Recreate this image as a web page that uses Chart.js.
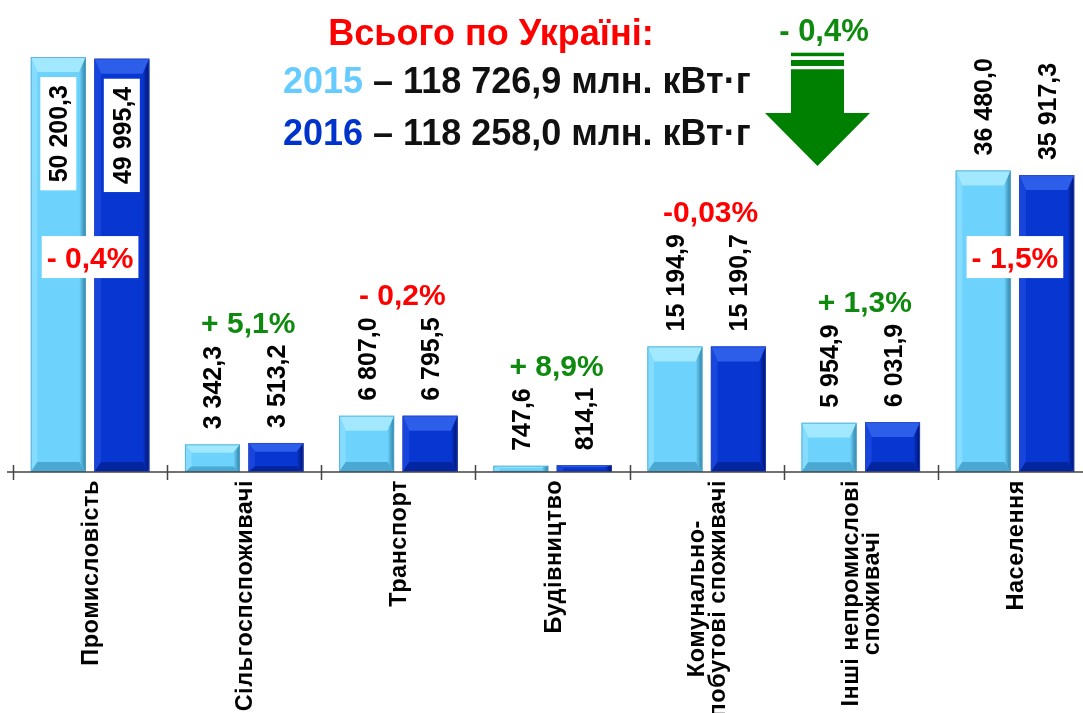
<!DOCTYPE html>
<html lang="uk">
<head>
<meta charset="utf-8">
<title>Споживання електроенергії за категоріями, 2015–2016</title>
<script src="https://cdn.jsdelivr.net/npm/chart.js@4.4.1/dist/chart.umd.min.js"></script>
<style>
  html, body { margin: 0; padding: 0; background: #fff; overflow: hidden; }
  #wrap {
    position: relative; width: 1083px; height: 713px; overflow: hidden;
    font-family: "Liberation Sans", Arial, sans-serif; font-weight: bold;
  }
  #chart { position: absolute; left: 0; top: 0; }
  .head { position: absolute; white-space: nowrap; line-height: 1; }
  #title { left: 491px; top: 15px; font-size: 36px; color: #ff0000; transform: translateX(-50%); }
  #line2015 { left: 283px; top: 63px; font-size: 36px; color: #111; }
  #line2016 { left: 283px; top: 115px; font-size: 36px; color: #111; }
  #total { left: 824px; top: 15px; font-size: 31px; color: #0e8a0e; transform: translateX(-50%); }
  #arrow { position: absolute; left: 760px; top: 40px; }
</style>
</head>
<body>
<div id="wrap">
  <canvas id="chart" width="1100" height="713" style="width:1100px;height:713px"></canvas>
  <div class="head" id="title">Всього по Україні:</div>
  <div class="head" id="line2015"><span style="color:#66ccff">2015</span> – 118 726,9 млн. кВт·г</div>
  <div class="head" id="line2016"><span style="color:#0033cc">2016</span> – 118 258,0 млн. кВт·г</div>
  <div class="head" id="total">- 0,4%</div>
  <svg id="arrow" width="130" height="135" viewBox="0 0 130 135">
    <rect x="31" y="12.7" width="53" height="3.5" fill="#008000"/>
    <rect x="31" y="20" width="53" height="6" fill="#008000"/>
    <polygon points="31,29.3 84,29.3 84,73 110,73 57.5,126 5,73 31,73" fill="#008000"/>
  </svg>
</div>
<script>
// категорії (багаторядкові підписи як масиви)
const categories = [
  ['Промисловість'],
  ['Сільгоспспоживачі'],
  ['Транспорт'],
  ['Будівництво'],
  ['Комунально-', 'побутові споживачі'],
  ['Інші непромислові', 'споживачі'],
  ['Населення']
];
const values2015 = [50200.3, 3342.3, 6807.0, 747.6, 15194.9, 5954.9, 36480.0];
const values2016 = [49995.4, 3513.2, 6795.5, 814.1, 15190.7, 6031.9, 35917.3];
const changeLabels = ['- 0,4%', '+ 5,1%', '- 0,2%', '+ 8,9%', '-0,03%', '+ 1,3%', '- 1,5%'];
const changeGrowth = [false, true, false, true, false, true, false];
const boxedCategories = [0, 6];   // % change drawn inside bars on white
const boxedValues = [0];          // bar values drawn inside bars on white

const FONT = '"Liberation Sans", Arial, sans-serif';
const RED = '#ff0000';
const GREEN = '#0e8a0e';
const INSIDE_LABEL_VALUE = 26000;

const palette = [
  { face: '#6dd3fc', top: '#a2e8ff', left: '#86dcff', right: '#2f7fa3', bottom: '#4aa8d2' },
  { face: '#0836d0', top: '#2c5ee9', left: '#1846dc', right: '#011066', bottom: '#0326a0' }
];

function fmt(v) {
  const parts = v.toFixed(1).split('.');
  return parts[0].replace(/\B(?=(\d{3})+(?!\d))/g, ' ') + ',' + parts[1];
}

function poly(ctx, pts, fill) {
  ctx.beginPath();
  ctx.moveTo(pts[0][0], pts[0][1]);
  for (let k = 1; k < pts.length; k++) ctx.lineTo(pts[k][0], pts[k][1]);
  ctx.closePath();
  ctx.fillStyle = fill;
  ctx.fill();
}

// bevelled look of the bars
const bevelPlugin = {
  id: 'bevel',
  afterDatasetsDraw(chart) {
    const ctx = chart.ctx;
    chart.data.datasets.forEach((ds, d) => {
      const c = palette[d];
      chart.getDatasetMeta(d).data.forEach(el => {
        const l = el.x - el.width / 2, r = el.x + el.width / 2;
        const t = el.y, b = el.base, h = b - t;
        const bt = Math.min(15, h * 0.3), bb = Math.min(10, h * 0.2), s = Math.min(7, el.width * 0.12);
        ctx.save();
        poly(ctx, [[l, t], [r, t], [r - s, t + bt], [l + s, t + bt]], c.top);
        poly(ctx, [[l, t], [l + s, t + bt], [l + s, b - bb], [l, b]], c.left);
        const g = ctx.createLinearGradient(r - s, 0, r, 0);
        g.addColorStop(0, c.face);
        g.addColorStop(1, c.right);
        poly(ctx, [[r, t], [r - s, t + bt], [r - s, b - bb], [r, b]], g);
        poly(ctx, [[l, b], [l + s, b - bb], [r - s, b - bb], [r, b]], c.bottom);
        ctx.strokeStyle = d === 0 ? 'rgba(80,170,210,0.8)' : 'rgba(40,70,200,0.8)';
        ctx.lineWidth = 1;
        ctx.strokeRect(l + 0.5, t + 0.5, el.width - 1, h - 1);
        ctx.restore();
      });
    });
  }
};

// axis line, category ticks, labels
const labelPlugin = {
  id: 'labels',
  afterDraw(chart) {
    const ctx = chart.ctx;
    const xs = chart.scales.x, ys = chart.scales.y;
    const y0 = ys.getPixelForValue(0);
    const catW = (chart.chartArea.right - chart.chartArea.left) / categories.length;
    ctx.save();

    // axis
    ctx.strokeStyle = '#444';
    ctx.lineWidth = 1.5;
    ctx.beginPath();
    ctx.moveTo(7, y0);
    ctx.lineTo(chart.width, y0);
    for (let k = 0; k <= categories.length; k++) {
      const x = Math.round(chart.chartArea.left + k * catW) + 0.5;
      ctx.moveTo(x, y0 - 7);
      ctx.lineTo(x, y0 + 8);
    }
    ctx.stroke();

    // category labels, rotated
    ctx.fillStyle = '#000';
    ctx.font = 'bold 23.5px ' + FONT;
    ctx.letterSpacing = '0.5px';
    categories.forEach((lines, i) => {
      const cx = xs.getPixelForValue(i);
      const maxW = Math.max(...lines.map(s => ctx.measureText(s).width));
      lines.forEach((s, j) => {
        ctx.save();
        ctx.translate(cx + (j - (lines.length - 1) / 2) * 21, y0 + 8);
        ctx.rotate(-Math.PI / 2);
        ctx.textAlign = 'center';
        ctx.textBaseline = 'alphabetic';
        ctx.fillText(s, -maxW / 2, 8);
        ctx.restore();
      });
    });
    ctx.letterSpacing = '0px';

    // bar values
    ctx.font = 'bold 25px ' + FONT;
    const tops = categories.map(() => Infinity);
    [values2015, values2016].forEach((vals, d) => {
      chart.getDatasetMeta(d).data.forEach((el, i) => {
        const txt = fmt(vals[i]);
        const w = ctx.measureText(txt).width;
        ctx.save();
        if (boxedValues.includes(i)) {
          ctx.translate(el.x, el.y + 28);
          ctx.rotate(-Math.PI / 2);
          ctx.fillStyle = '#fff';
          ctx.fillRect(-w - 8, -18, w + 16, 36);
          ctx.fillStyle = '#000';
          ctx.textAlign = 'right';
          ctx.fillText(txt, 0, 9);
        } else {
          ctx.translate(el.x, el.y - 15);
          ctx.rotate(-Math.PI / 2);
          ctx.fillStyle = '#000';
          ctx.textAlign = 'left';
          ctx.fillText(txt, 0, 9);
          tops[i] = Math.min(tops[i], el.y - 15 - w);
        }
        ctx.restore();
      });
    });

    // % change
    ctx.font = 'bold 30px ' + FONT;
    ctx.textAlign = 'center';
    changeLabels.forEach((txt, i) => {
      const cx = xs.getPixelForValue(i);
      const color = changeGrowth[i] ? GREEN : RED;
      if (boxedCategories.includes(i)) {
        const cy = ys.getPixelForValue(INSIDE_LABEL_VALUE);
        const w = ctx.measureText(txt).width;
        ctx.fillStyle = '#fff';
        ctx.fillRect(cx - w / 2 - 5, cy - 21, w + 10, 42);
        ctx.fillStyle = color;
        ctx.fillText(txt, cx, cy + 11);
      } else {
        ctx.fillStyle = color;
        ctx.fillText(txt, cx + 4, tops[i] - 12);
      }
    });
    ctx.restore();
  }
};

new Chart(document.getElementById('chart'), {
  type: 'bar',
  data: {
    labels: categories,
    datasets: [
      { label: '2015', data: values2015, backgroundColor: palette[0].face, borderWidth: 0,
        categoryPercentage: 0.824, barPercentage: 0.866 },
      { label: '2016', data: values2016, backgroundColor: palette[1].face, borderWidth: 0,
        categoryPercentage: 0.824, barPercentage: 0.866 }
    ]
  },
  options: {
    responsive: false,
    animation: false,
    layout: { padding: { left: 13, right: 8, top: 0, bottom: 241 } },
    plugins: { legend: { display: false }, tooltip: { enabled: false } },
    scales: {
      x: { display: false },
      y: { display: false, min: 0, max: 57100 }
    }
  },
  plugins: [bevelPlugin, labelPlugin]
});
</script>
</body>
</html>
